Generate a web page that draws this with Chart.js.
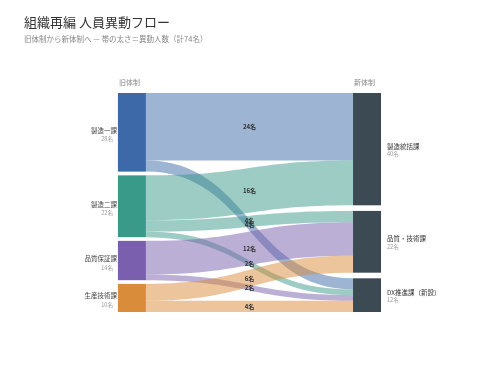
<!DOCTYPE html>
<html lang="ja">
<head>
<meta charset="utf-8">
<title>組織再編 人員異動フロー</title>
<script src="https://cdn.jsdelivr.net/npm/chart.js@4"></script>
<style>
  body { margin: 0; background: #fff; }
  #wrap { width: 500px; height: 375px; }
</style>
</head>
<body>
<div id="wrap"><canvas id="flowChart" width="500" height="375"></canvas></div>
<script>
// nodes
const sourceNodes = ['製造一課', '製造二課', '品質保証課', '生産技術課'];
const targetNodes = ['製造統括課', '品質・技術課', 'DX推進課（新設）'];
// flows (source index -> target index)
const flowFrom  = [0, 0, 1, 1, 1, 2, 2, 3, 3];
const flowTo    = [0, 2, 0, 1, 2, 1, 2, 1, 2];
const flowValue = [24, 4, 16, 4, 2, 12, 2, 6, 4];

const sourceColors = ['#3e69a8', '#3a9a8a', '#7a5fae', '#d98c3a'];
const targetColor = '#3b4a53';
const FONT = "'Noto Sans CJK JP', 'Noto Sans', sans-serif";
const COLUMN_SPAN = 78;   // y units per column (people + gaps)
const NODE_W = 28;

function rgba(hex, a) {
  const n = parseInt(hex.slice(1), 16);
  return `rgba(${n >> 16},${(n >> 8) & 255},${n & 255},${a})`;
}

function nodeTotals(names, key) {
  return names.map((_, i) => flowValue.reduce((s, v, k) => s + (key[k] === i ? v : 0), 0));
}

function stackColumn(totals) {
  const sum = totals.reduce((a, b) => a + b, 0);
  const gap = (COLUMN_SPAN - sum) / (totals.length - 1);
  let pos = 0;
  return totals.map(t => { const s = pos; pos += t + gap; return s; });
}

const srcTotals = nodeTotals(sourceNodes, flowFrom);
const tgtTotals = nodeTotals(targetNodes, flowTo);
const srcStart = stackColumn(srcTotals);
const tgtStart = stackColumn(tgtTotals);

// band ends in y units
const srcUsed = srcStart.slice();
const tgtUsed = tgtStart.slice();
const links = flowValue.map((v, k) => ({ from: flowFrom[k], to: flowTo[k], value: v }));
links.forEach(l => { l.s0 = srcUsed[l.from]; srcUsed[l.from] += l.value; });
links.slice().sort((a, b) => a.to - b.to || a.from - b.from)
  .forEach(l => { l.t0 = tgtUsed[l.to]; tgtUsed[l.to] += l.value; });

const sankeyPlugin = {
  id: 'sankey',
  afterDatasetsDraw(chart) {
    const { ctx, chartArea, scales: { x, y } } = chart;
    const xs = x.getPixelForValue(0);
    const xt = x.getPixelForValue(1);
    const x0 = xs + NODE_W, x1 = xt - NODE_W, xm = (x0 + x1) / 2;
    ctx.save();

    // bands
    links.forEach(l => {
      const a0 = y.getPixelForValue(l.s0), a1 = y.getPixelForValue(l.s0 + l.value);
      const b0 = y.getPixelForValue(l.t0), b1 = y.getPixelForValue(l.t0 + l.value);
      ctx.beginPath();
      ctx.moveTo(x0, a0);
      ctx.bezierCurveTo(xm, a0, xm, b0, x1, b0);
      ctx.lineTo(x1, b1);
      ctx.bezierCurveTo(xm, b1, xm, a1, x0, a1);
      ctx.closePath();
      ctx.fillStyle = rgba(sourceColors[l.from], 0.5);
      ctx.fill();
    });

    // nodes
    sourceNodes.forEach((name, i) => {
      const top = y.getPixelForValue(srcStart[i]);
      const bot = y.getPixelForValue(srcStart[i] + srcTotals[i]);
      ctx.fillStyle = sourceColors[i];
      ctx.fillRect(xs, top, NODE_W, bot - top);
      const cy = (top + bot) / 2;
      ctx.textAlign = 'right';
      ctx.textBaseline = 'middle';
      ctx.fillStyle = '#444';
      ctx.font = `6.5px ${FONT}`;
      ctx.fillText(name, xs - 1, cy - 2);
      ctx.fillStyle = '#999';
      ctx.font = `5.5px ${FONT}`;
      ctx.fillText(srcTotals[i] + '名', xs - 5, cy + 7);
    });
    targetNodes.forEach((name, i) => {
      const top = y.getPixelForValue(tgtStart[i]);
      const bot = y.getPixelForValue(tgtStart[i] + tgtTotals[i]);
      ctx.fillStyle = targetColor;
      ctx.fillRect(x1, top, NODE_W, bot - top);
      const cy = (top + bot) / 2;
      ctx.textAlign = 'left';
      ctx.textBaseline = 'middle';
      ctx.fillStyle = '#333';
      ctx.font = `6.5px ${FONT}`;
      ctx.fillText(name, xt + 6, cy - 3);
      ctx.fillStyle = '#999';
      ctx.font = `5.5px ${FONT}`;
      ctx.fillText(tgtTotals[i] + '名', xt + 6, cy + 5);
    });

    // band labels
    ctx.textAlign = 'center';
    ctx.fillStyle = '#333';
    ctx.font = `bold 6px ${FONT}`;
    links.forEach(l => {
      const ya = y.getPixelForValue(l.s0 + l.value / 2);
      const yb = y.getPixelForValue(l.t0 + l.value / 2);
      ctx.fillText(l.value + '名', xm, (ya + yb) / 2);
    });

    // column headers
    ctx.textAlign = 'left';
    ctx.fillStyle = '#888';
    ctx.font = `7px ${FONT}`;
    ctx.fillText('旧体制', xs + 1, chartArea.top - 11);
    ctx.fillText('新体制', x1 + 1, chartArea.top - 11);
    ctx.restore();
  }
};

new Chart(document.getElementById('flowChart'), {
  type: 'scatter',
  data: { datasets: [{ data: [], pointRadius: 0 }] },
  options: {
    responsive: false,
    animation: false,
    events: [],
    layout: { padding: { left: 24, right: 24, top: 0, bottom: 63 } },
    scales: {
      x: { display: false, min: -0.357, max: 1.361 },
      y: { display: false, min: 0, max: COLUMN_SPAN, reverse: true }
    },
    plugins: {
      legend: { display: false },
      tooltip: { enabled: false },
      title: {
        display: true,
        text: '組織再編 人員異動フロー',
        align: 'start',
        color: '#333',
        font: { family: FONT, size: 13, weight: 'normal' },
        padding: { top: 14, bottom: 4.6 }
      },
      subtitle: {
        display: true,
        text: '旧体制から新体制へ — 帯の太さ＝異動人数（計74名）',
        align: 'start',
        color: '#888',
        font: { family: FONT, size: 7.5 },
        padding: { top: 0, bottom: 49.8 }
      }
    }
  },
  plugins: [sankeyPlugin]
});
</script>
</body>
</html>
